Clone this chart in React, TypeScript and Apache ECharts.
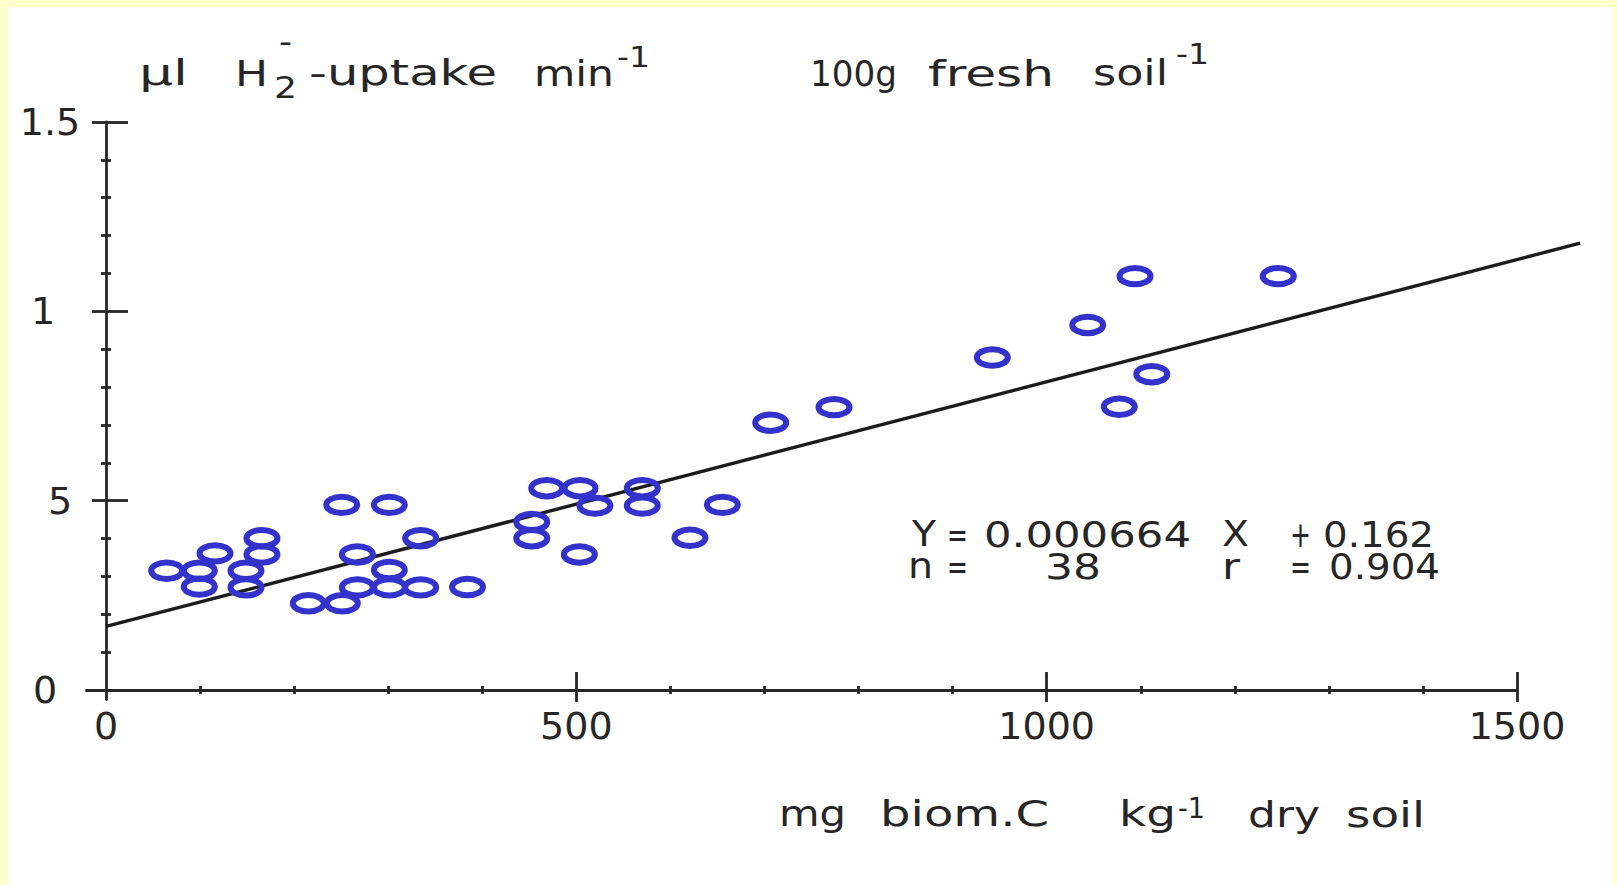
import React, { useEffect, useRef } from "react";
import * as echarts from "echarts";

// ---------- data ----------
const biomassC = [
  64.5, 99.2, 99.2, 115.9, 148.8, 148.8, 165.8, 165.8, 215.1, 251.2, 250.6,
  267.2, 267.2, 301.2, 301.2, 301.2, 334.5, 334.5, 384.3, 452.6, 452.6, 468.5,
  503.9, 519.8, 503.2, 570.1, 570.1, 620.8, 655.2, 706.6, 773.9, 942.2, 1043.6,
  1093.9, 1111.7, 1077.2, 1246.2,
];
const h2Uptake = [
  0.315, 0.315, 0.273, 0.361, 0.315, 0.271, 0.401, 0.358, 0.229, 0.229, 0.489,
  0.358, 0.271, 0.489, 0.317, 0.271, 0.401, 0.271, 0.272, 0.444, 0.401, 0.533,
  0.533, 0.487, 0.358, 0.533, 0.487, 0.402, 0.489, 0.706, 0.747, 0.878, 0.964,
  1.093, 0.834, 0.748, 1.093,
];
// regression line as drawn (ends)
const fitX = [0, 1567];
const fitY = [0.168, 1.18];

const xLabelValues = [0, 500, 1000, 1500];
const xMajorTicks = [500, 1000, 1500];
const xMinorTicks = [100, 200, 300, 400, 600, 700, 800, 900, 1100, 1200, 1300, 1400];
const xAxisLineEnds = [-22, 1500];
const yLabelValues = [0, 0.5, 1, 1.5];
const yLabelTexts = ["0", "5", "1", "1.5"];
const yMajorTicks = [0.5, 1, 1.5];
const yMinorTicks = [0.1, 0.2, 0.3, 0.4, 0.6, 0.7, 0.8, 0.9, 1.1, 1.2, 1.3, 1.4];

const titleWords = ["µl", "H", "2", "-", "-uptake", "min", "-1", "100g", "fresh", "soil", "-1"];
const xNameWords = ["mg", "biom.C", "kg", "-1", "dry", "soil"];
const eqWords1 = ["Y", "=", "0.000664", "X", "+", "0.162"];
const eqWords2 = ["n", "=", "38", "r", "=", "0.904"];

// ---------- layout (pixels) ----------
const FONT = "DejaVu Sans";
const INK = "#262626";
const titleLayout = [
  [139, 188, 73, 36], [235, 268, 73, 36], [274, 297, 88, 30], [279, 292, 42, 30],
  [309, 497, 73, 36], [534, 614, 73, 36], [617, 650, 57, 28], [810, 897, 73, 36],
  [928, 1054, 73, 36], [1093, 1168, 73, 36], [1176, 1209, 54, 28],
];
const xNameLayout = [
  [779, 846, 814, 36], [880, 1049, 814, 36], [1119, 1176, 814, 36],
  [1178, 1205, 808, 28], [1248, 1320, 814, 36], [1346, 1425, 814, 36],
];
const eqLayout1 = [
  [912, 936, 534, 36], [947, 968, 534, 36], [984, 1191, 534, 36],
  [1222, 1249, 534, 36], [1290, 1311, 534, 36], [1323, 1434, 534, 36],
];
const eqLayout2 = [
  [908, 933, 566, 36], [947, 968, 566, 36], [1045, 1101, 566, 36],
  [1222, 1240, 566, 36], [1290, 1311, 566, 36], [1329, 1440, 566, 36],
];

const X_MIN = -22;
const X_MAX = 1570;
const Y_MIN = -0.025;
const Y_MAX = 1.5;

const RING_RX = 15.5;
const RING_RY = 8.2;
const RING_W = 6;
const RING_COLOR = "#3333CC";

function makeTexts(words: string[], layout: number[][]) {
  const canvas = document.createElement("canvas");
  const ctx = canvas.getContext("2d") as CanvasRenderingContext2D;
  return words.map((w, i) => {
    const [x1, x2, cy, size] = layout[i];
    ctx.font = `${size}px "${FONT}"`;
    const mw = ctx.measureText(w).width || 1;
    return {
      type: "text",
      x: x1,
      y: cy,
      scaleX: (x2 - x1) / mw,
      silent: true,
      style: {
        text: w,
        fontSize: size,
        fontFamily: FONT,
        fill: INK,
        textAlign: "left",
        textVerticalAlign: "middle",
      },
    };
  });
}

export default function App() {
  const ref = useRef<HTMLDivElement>(null);

  useEffect(() => {
    if (!ref.current) return;
    const chart = echarts.init(ref.current, undefined, { renderer: "svg" });
    const lineStyle = { color: INK, width: 2.8 };
    const baseX = {
      type: "value",
      min: X_MIN,
      max: X_MAX,
      position: "bottom",
      splitLine: { show: false },
      axisLabel: { show: false },
    };
    const baseY = {
      type: "value",
      min: Y_MIN,
      max: Y_MAX,
      position: "left",
      splitLine: { show: false },
      axisLabel: { show: false },
    };
    const rich: any = {};
    const pads = [23, 8, 25, 0];
    yLabelTexts.forEach((_, i) => {
      rich["p" + i] = {
        fontSize: 38,
        fontFamily: FONT,
        color: INK,
        padding: [0, pads[i], 0, 0],
      };
    });

    chart.setOption({
      animation: false,
      backgroundColor: "transparent",
      grid: { left: 85.3, right: 34.1, top: 122, bottom: 185.5, containLabel: false },
      xAxis: [
        {
          ...baseX,
          axisLine: { show: false, onZero: true },
          axisTick: { show: true, inside: false, length: 12, customValues: xMajorTicks, lineStyle },
          axisLabel: {
            show: true,
            customValues: xLabelValues,
            margin: 7,
            fontSize: 38,
            fontFamily: FONT,
            color: INK,
            formatter: (v: number) => String(v),
          },
        },
        {
          ...baseX,
          axisLine: { show: false, onZero: true },
          axisTick: { show: true, inside: true, length: 18, customValues: xMajorTicks, lineStyle },
        },
        {
          ...baseX,
          axisLine: { show: false, onZero: true },
          axisTick: { show: true, inside: false, length: 4, customValues: xMinorTicks, lineStyle },
        },
        {
          ...baseX,
          axisLine: { show: false, onZero: true },
          axisTick: { show: true, inside: true, length: 4, customValues: xMinorTicks, lineStyle },
        },
      ],
      yAxis: [
        {
          ...baseY,
          axisLine: { show: true, onZero: true, lineStyle },
          axisTick: { show: true, inside: false, length: 14, customValues: yMajorTicks, lineStyle },
          axisLabel: {
            show: true,
            customValues: yLabelValues,
            margin: 5,
            fontSize: 38,
            fontFamily: FONT,
            color: INK,
            formatter: (v: number) => {
              let idx = 0;
              yLabelValues.forEach((lv, i) => {
                if (Math.abs(lv - v) < 1e-6) idx = i;
              });
              return `{p${idx}|${yLabelTexts[idx]}}`;
            },
            rich,
          },
        },
        {
          ...baseY,
          axisLine: { show: false, onZero: true },
          axisTick: { show: true, inside: true, length: 22, customValues: yMajorTicks, lineStyle },
        },
        {
          ...baseY,
          axisLine: { show: false, onZero: true },
          axisTick: { show: true, inside: false, length: 5, customValues: yMinorTicks, lineStyle },
        },
        {
          ...baseY,
          axisLine: { show: false, onZero: true },
          axisTick: { show: true, inside: true, length: 5, customValues: yMinorTicks, lineStyle },
        },
      ],
      series: [
        {
          type: "line",
          data: fitX.map((x, i) => [x, fitY[i]]),
          symbol: "none",
          silent: true,
          lineStyle: { color: "#1c1c1c", width: 3.4 },
          z: 3,
          markLine: {
            silent: true,
            symbol: ["none", "none"],
            label: { show: false },
            lineStyle: { color: INK, width: 2.8, type: "solid" },
            data: [[{ coord: [xAxisLineEnds[0], 0] }, { coord: [xAxisLineEnds[1], 0] }]],
          },
        },
        {
          type: "custom",
          data: biomassC.map((x, i) => [x, h2Uptake[i]]),
          silent: true,
          z: 5,
          encode: { x: 0, y: 1 },
          renderItem: (params: any, api: any) => {
            const p = api.coord([api.value(0), api.value(1)]);
            return {
              type: "ellipse",
              shape: { cx: p[0], cy: p[1], rx: RING_RX, ry: RING_RY },
              style: { fill: "none", stroke: RING_COLOR, lineWidth: RING_W },
            };
          },
        },
      ],
      graphic: [
        ...makeTexts(titleWords, titleLayout),
        ...makeTexts(xNameWords, xNameLayout),
        ...makeTexts(eqWords1, eqLayout1),
        ...makeTexts(eqWords2, eqLayout2),
      ],
    });
    return () => chart.dispose();
  }, []);

  return (
    <div
      style={{
        position: "fixed",
        left: 0,
        top: 0,
        width: 1617,
        height: 885,
        background: "#FFFFCC",
        overflow: "hidden",
      }}
    >
      <div
        style={{
          position: "absolute",
          left: 8,
          top: 7,
          right: 4,
          bottom: 0,
          background: "#FFFFFF",
        }}
      />
      <div
        ref={ref}
        style={{ position: "absolute", left: 0, top: 0, width: 1617, height: 885 }}
      />
    </div>
  );
}
